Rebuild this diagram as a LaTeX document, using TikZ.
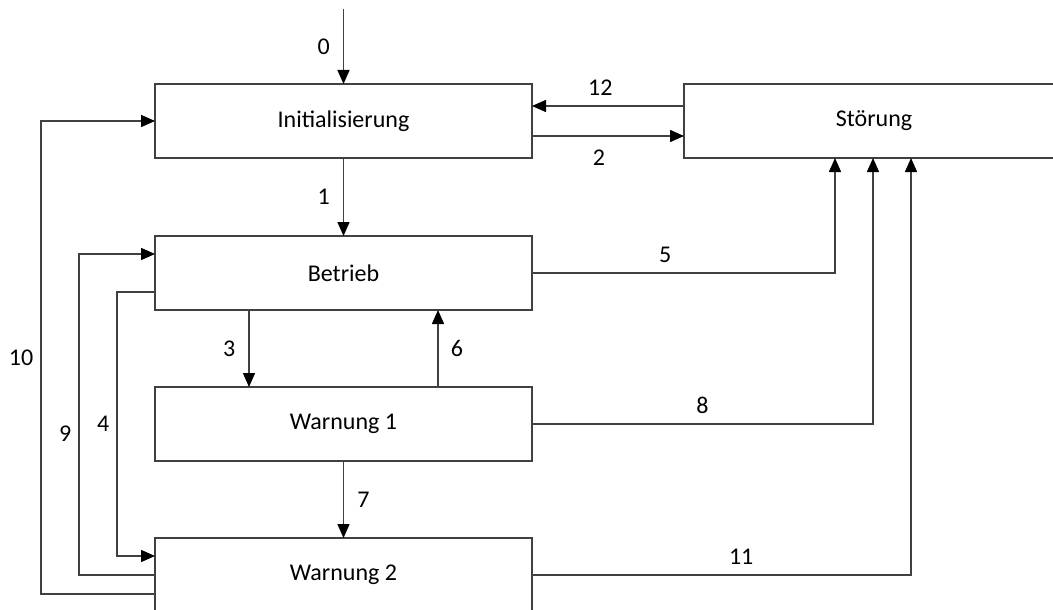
\documentclass[tikz,border=0pt]{standalone}
\usepackage{fontspec}
\setmainfont{Carlito}
\usetikzlibrary{arrows.meta,positioning}

\begin{document}
\begin{tikzpicture}[
    x=1pt, y=1pt,
    node distance=77pt,
    every node/.style={font=\fontsize{24}{28}\selectfont},
    statebox/.style={rectangle, draw=black!75, line width=1.5pt, minimum width=377pt,
                     minimum height=74pt, align=center, inner sep=0pt, outer sep=0pt},
    numlabel/.style={inner sep=0pt},
    arrow/.style={-{Triangle[length=14pt, width=12pt, color=black]}, line width=1.5pt, draw=black!75}
]
\useasboundingbox (0,0) rectangle (1053,-610);
\clip (0,0) rectangle (1053,-610);
\node[statebox, anchor=north west] (init) at (155,-84) {Initialisierung};
\node[statebox, below=78pt of init] (betrieb) {Betrieb};
\node[statebox, below=of betrieb] (warn1) {Warnung 1};
\node[statebox, below=of warn1] (warn2) {Warnung 2};
\node[statebox, minimum width=380pt, right=152pt of init] (stoer) {Störung};
\coordinate[above=75pt of init.north] (entry);
% main flow
\draw[arrow] (entry) -- node[numlabel, left=13pt] {0} (init);
\draw[arrow] (init) -- node[numlabel, left=13pt] {1} (betrieb);
\draw[arrow] ([xshift=94pt]betrieb.south west) -- node[numlabel, left=13pt] {3} ([xshift=94pt]warn1.north west);
\draw[arrow] ([xshift=283pt]warn1.north west) -- node[numlabel, right=12pt] {6} ([xshift=283pt]betrieb.south west);
\draw[arrow] (warn1) -- node[numlabel, right=13pt] {7} (warn2);
% to and from Stoerung
\draw[arrow] ([yshift=15pt]stoer.west) -- node[numlabel, pos=0.55, above=10pt] {12} ([yshift=15pt]init.east);
\draw[arrow] ([yshift=-15pt]init.east) -- node[numlabel, pos=0.44, below=13pt] {2} ([yshift=-15pt]stoer.west);
\draw[arrow] (betrieb.east) -| node[numlabel, pos=0.22, above=10pt] {5} ([xshift=151pt]stoer.south west);
\draw[arrow] (warn1.east) -| node[numlabel, pos=0.25, above=10pt] {8} ([xshift=189pt]stoer.south west);
\draw[arrow] (warn2.east) -| node[numlabel, pos=0.276, above=10pt] {11} ([xshift=227pt]stoer.south west);
% left side returns
\draw[arrow] ([yshift=-19pt]betrieb.west) -- ++(-38,0) |- node[numlabel, pos=0.25, left=7pt] {4} ([yshift=19pt]warn2.west);
\draw[arrow] (warn2.west) -- ++(-76,0) |- node[numlabel, pos=0.22, left=7pt] {9} ([yshift=19pt]betrieb.west);
\draw[arrow] ([yshift=-19pt]warn2.west) -- ++(-114,0) |- node[numlabel, pos=0.25, left=7pt] {10} (init.west);
\end{tikzpicture}
\end{document}
